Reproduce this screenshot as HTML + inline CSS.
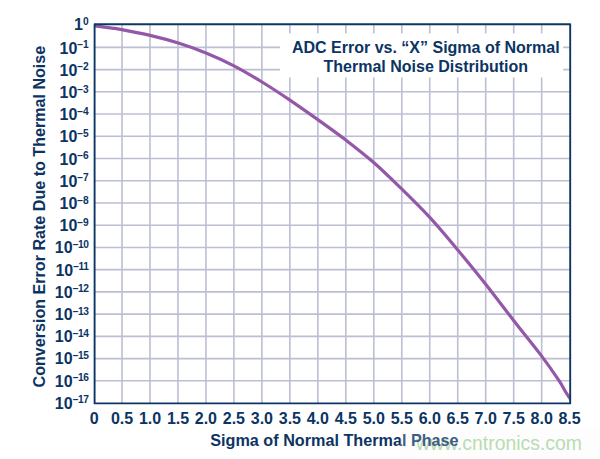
<!DOCTYPE html>
<html><head><meta charset="utf-8"><style>
html,body{margin:0;padding:0;background:#fff;}
body{width:600px;height:459px;overflow:hidden;position:relative;}
svg{position:absolute;left:0;top:0;}
text{font-family:"Liberation Sans",sans-serif;font-weight:bold;fill:#0c3463;font-size:16px;}
</style></head><body>
<svg width="600" height="459" viewBox="0 0 600 459">
<rect x="0" y="0" width="600" height="459" fill="#fff"/>
<defs><clipPath id="pc"><rect x="95" y="24" width="475" height="379"/></clipPath></defs>
<g stroke="#bcbfd2" stroke-width="1.6" fill="none">
<line x1="122.01" y1="24" x2="122.01" y2="403"/>
<line x1="149.98" y1="24" x2="149.98" y2="403"/>
<line x1="177.96" y1="24" x2="177.96" y2="403"/>
<line x1="205.94" y1="24" x2="205.94" y2="403"/>
<line x1="233.91" y1="24" x2="233.91" y2="403"/>
<line x1="261.89" y1="24" x2="261.89" y2="403"/>
<line x1="289.87" y1="24" x2="289.87" y2="403"/>
<line x1="317.85" y1="24" x2="317.85" y2="403"/>
<line x1="345.82" y1="24" x2="345.82" y2="403"/>
<line x1="373.80" y1="24" x2="373.80" y2="403"/>
<line x1="401.78" y1="24" x2="401.78" y2="403"/>
<line x1="429.75" y1="24" x2="429.75" y2="403"/>
<line x1="457.73" y1="24" x2="457.73" y2="403"/>
<line x1="485.71" y1="24" x2="485.71" y2="403"/>
<line x1="513.69" y1="24" x2="513.69" y2="403"/>
<line x1="541.66" y1="24" x2="541.66" y2="403"/>
<line x1="95" y1="47.36" x2="570" y2="47.36"/>
<line x1="95" y1="69.59" x2="570" y2="69.59"/>
<line x1="95" y1="91.82" x2="570" y2="91.82"/>
<line x1="95" y1="114.05" x2="570" y2="114.05"/>
<line x1="95" y1="136.28" x2="570" y2="136.28"/>
<line x1="95" y1="158.51" x2="570" y2="158.51"/>
<line x1="95" y1="180.74" x2="570" y2="180.74"/>
<line x1="95" y1="202.97" x2="570" y2="202.97"/>
<line x1="95" y1="225.20" x2="570" y2="225.20"/>
<line x1="95" y1="247.43" x2="570" y2="247.43"/>
<line x1="95" y1="269.66" x2="570" y2="269.66"/>
<line x1="95" y1="291.89" x2="570" y2="291.89"/>
<line x1="95" y1="314.12" x2="570" y2="314.12"/>
<line x1="95" y1="336.35" x2="570" y2="336.35"/>
<line x1="95" y1="358.58" x2="570" y2="358.58"/>
<line x1="95" y1="380.81" x2="570" y2="380.81"/>
</g>
<rect x="280" y="33.4" width="283.2" height="44.1" fill="#fff"/>
<path d="M95.0,25.9 C97.8,26.3 107.5,27.5 112.0,28.1 C116.5,28.7 115.4,28.4 121.7,29.6 C128.0,30.8 140.6,33.2 150.0,35.4 C159.4,37.6 169.0,40.1 178.3,43.0 C187.6,45.9 196.7,49.1 206.0,52.9 C215.3,56.7 224.6,60.9 233.9,65.8 C243.2,70.6 252.7,76.3 262.0,82.0 C271.3,87.7 280.6,93.8 289.9,100.1 C299.2,106.4 308.5,113.0 317.8,119.6 C327.1,126.2 336.2,132.7 345.5,139.8 C354.8,147.0 364.3,154.3 373.7,162.5 C383.1,170.7 392.5,180.0 401.9,189.2 C411.3,198.4 420.7,207.6 430.0,217.7 C439.3,227.8 448.5,238.9 457.8,250.0 C467.1,261.1 476.4,272.5 485.7,284.3 C495.0,296.1 504.5,308.8 513.8,320.7 C523.1,332.6 533.8,345.7 541.3,355.6 C548.8,365.5 554.7,374.2 558.7,380.2 C562.7,386.1 563.2,388.0 565.3,391.3 C567.3,394.6 570.0,398.4 571.0,399.8" fill="none" stroke="#9458a9" stroke-width="3.2" stroke-linejoin="round" stroke-linecap="round" clip-path="url(#pc)"/>
<rect x="94.6" y="24.3" width="475.6" height="379.1" fill="none" stroke="#0c3764" stroke-width="1.9" stroke-linejoin="round"/>
<g>
<text x="94.3" y="423.5" text-anchor="middle">0</text>
<text x="122.0" y="423.5" text-anchor="middle">0.5</text>
<text x="150.0" y="423.5" text-anchor="middle">1.0</text>
<text x="178.0" y="423.5" text-anchor="middle">1.5</text>
<text x="205.9" y="423.5" text-anchor="middle">2.0</text>
<text x="233.9" y="423.5" text-anchor="middle">2.5</text>
<text x="261.9" y="423.5" text-anchor="middle">3.0</text>
<text x="289.9" y="423.5" text-anchor="middle">3.5</text>
<text x="317.8" y="423.5" text-anchor="middle">4.0</text>
<text x="345.8" y="423.5" text-anchor="middle">4.5</text>
<text x="373.8" y="423.5" text-anchor="middle">5.0</text>
<text x="401.8" y="423.5" text-anchor="middle">5.5</text>
<text x="429.8" y="423.5" text-anchor="middle">6.0</text>
<text x="457.7" y="423.5" text-anchor="middle">6.5</text>
<text x="485.7" y="423.5" text-anchor="middle">7.0</text>
<text x="513.7" y="423.5" text-anchor="middle">7.5</text>
<text x="541.7" y="423.5" text-anchor="middle">8.0</text>
<text x="569.6" y="423.5" text-anchor="middle">8.5</text>
</g>
<g>
<text x="88.3" y="30.2" text-anchor="end">1<tspan font-size="10.2" dy="-5.3" letter-spacing="-0.3">0</tspan></text>
<text x="88.3" y="53.5" text-anchor="end">10<tspan font-size="10.2" dy="-5.3" letter-spacing="-0.3">−1</tspan></text>
<text x="88.3" y="75.7" text-anchor="end">10<tspan font-size="10.2" dy="-5.3" letter-spacing="-0.3">−2</tspan></text>
<text x="88.3" y="97.9" text-anchor="end">10<tspan font-size="10.2" dy="-5.3" letter-spacing="-0.3">−3</tspan></text>
<text x="88.3" y="120.1" text-anchor="end">10<tspan font-size="10.2" dy="-5.3" letter-spacing="-0.3">−4</tspan></text>
<text x="88.3" y="142.3" text-anchor="end">10<tspan font-size="10.2" dy="-5.3" letter-spacing="-0.3">−5</tspan></text>
<text x="88.3" y="164.5" text-anchor="end">10<tspan font-size="10.2" dy="-5.3" letter-spacing="-0.3">−6</tspan></text>
<text x="88.3" y="186.7" text-anchor="end">10<tspan font-size="10.2" dy="-5.3" letter-spacing="-0.3">−7</tspan></text>
<text x="88.3" y="208.9" text-anchor="end">10<tspan font-size="10.2" dy="-5.3" letter-spacing="-0.3">−8</tspan></text>
<text x="88.3" y="231.1" text-anchor="end">10<tspan font-size="10.2" dy="-5.3" letter-spacing="-0.3">−9</tspan></text>
<text x="88.3" y="253.3" text-anchor="end">10<tspan font-size="10.2" dy="-5.3" letter-spacing="-0.55">−10</tspan></text>
<text x="88.3" y="275.5" text-anchor="end">10<tspan font-size="10.2" dy="-5.3" letter-spacing="-0.55">−11</tspan></text>
<text x="88.3" y="297.7" text-anchor="end">10<tspan font-size="10.2" dy="-5.3" letter-spacing="-0.55">−12</tspan></text>
<text x="88.3" y="319.9" text-anchor="end">10<tspan font-size="10.2" dy="-5.3" letter-spacing="-0.55">−13</tspan></text>
<text x="88.3" y="342.1" text-anchor="end">10<tspan font-size="10.2" dy="-5.3" letter-spacing="-0.55">−14</tspan></text>
<text x="88.3" y="364.3" text-anchor="end">10<tspan font-size="10.2" dy="-5.3" letter-spacing="-0.55">−15</tspan></text>
<text x="88.3" y="386.5" text-anchor="end">10<tspan font-size="10.2" dy="-5.3" letter-spacing="-0.55">−16</tspan></text>
<text x="88.3" y="408.7" text-anchor="end">10<tspan font-size="10.2" dy="-5.3" letter-spacing="-0.55">−17</tspan></text>
</g>
<text x="425.8" y="53.2" text-anchor="middle">ADC Error vs. “X” Sigma of Normal</text>
<text x="425.8" y="72" text-anchor="middle">Thermal Noise Distribution</text>
<text x="416" y="449.5" style="font-weight:normal;font-size:19.4px;fill:#a8d59e">www.cntronics.com</text>
<text x="210.3" y="445.6" style="font-size:16.2px">Sigma of Normal Thermal Phase</text>
<text transform="translate(45,216.6) rotate(-90)" text-anchor="middle" style="font-size:16.1px">Conversion Error Rate Due to Thermal Noise</text>
<rect x="400" y="429" width="200" height="30" fill="rgba(245,245,245,0.22)"/>
</svg>
</body></html>
